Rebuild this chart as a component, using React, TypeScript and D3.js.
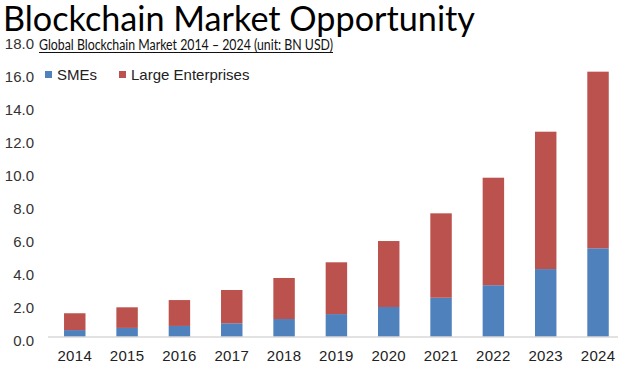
import * as d3 from "d3";

const years = ["2014", "2015", "2016", "2017", "2018", "2019", "2020", "2021", "2022", "2023", "2024"];
const smes = [0.42, 0.55, 0.67, 0.83, 1.09, 1.39, 1.82, 2.38, 3.14, 4.12, 5.38];
const largeEnterprises = [1.02, 1.25, 1.57, 2.02, 2.49, 3.14, 4.0, 5.12, 6.52, 8.33, 10.71];
const yTickValues = [0, 2, 4, 6, 8, 10, 12, 14, 16, 18];
const seriesNames = ["SMEs", "Large Enterprises"];

const W = 618;
const H = 365;
const COLORS = ["#4F81BD", "#BC524E"];
const FONT = "Liberation Sans, Arial, sans-serif";

export default function App() {
  const rows = years.map((year, i) => ({ year, SMEs: smes[i], "Large Enterprises": largeEnterprises[i] }));
  const stacked = d3.stack<any>().keys(seriesNames)(rows);

  const x = d3.scaleBand().domain(years).range([48.6, 624.2]).paddingInner(0.59).paddingOuter(0.295);
  const y = d3.scaleLinear().domain([0, 18]).range([337, 337 - 18 * 16.49]);
  const fmt = d3.format(".1f");

  return (
    <svg
      width={W}
      height={H}
      style={{ position: "absolute", left: 0, top: 0, background: "#fff" }}
    >
      <text x={3} y={31} fontFamily="Lato, Open Sans, sans-serif" fontSize={35} fill="#000" textLength={472} lengthAdjust="spacingAndGlyphs">
        Blockchain Market Opportunity
      </text>

      {yTickValues.map((t) => (
        <text key={t} x={34} y={y(t) + 3.5} dy="0.35em" textAnchor="end" fontFamily={FONT} fontSize={15} fill="#333">
          {fmt(t)}
        </text>
      ))}

      <text x={39} y={50} fontFamily="Lato, Open Sans, sans-serif" fontSize={14.5} fill="#111" textLength={294} lengthAdjust="spacingAndGlyphs">
        Global Blockchain Market 2014 – 2024 (unit: BN USD)
      </text>
      <line x1={39} x2={333} y1={52.5} y2={52.5} stroke="#111" strokeWidth={1} />

      {stacked.map((s, si) => (
        <g key={s.key} fill={COLORS[si]}>
          {s.map((d, i) => (
            <rect
              key={years[i]}
              x={x(years[i])}
              y={y(d[1])}
              width={x.bandwidth()}
              height={y(d[0]) - y(d[1])}
            />
          ))}
        </g>
      ))}

      <line x1={48} x2={618} y1={337} y2={337} stroke="#D9D9D9" strokeWidth={1.5} />

      {years.map((yr) => (
        <text
          key={yr}
          x={(x(yr) ?? 0) + x.bandwidth() / 2}
          y={361}
          textAnchor="middle"
          fontFamily={FONT}
          fontSize={15}
          letterSpacing={0.3}
          fill="#222"
        >
          {yr}
        </text>
      ))}

      {seriesNames.map((name, i) => {
        const lx = [45, 119][i];
        return (
          <g key={name}>
            <rect x={lx} y={71} width={7} height={7} fill={COLORS[i]} />
            <text x={lx + 12} y={80} fontFamily={FONT} fontSize={15} fill="#222">
              {name}
            </text>
          </g>
        );
      })}
    </svg>
  );
}
